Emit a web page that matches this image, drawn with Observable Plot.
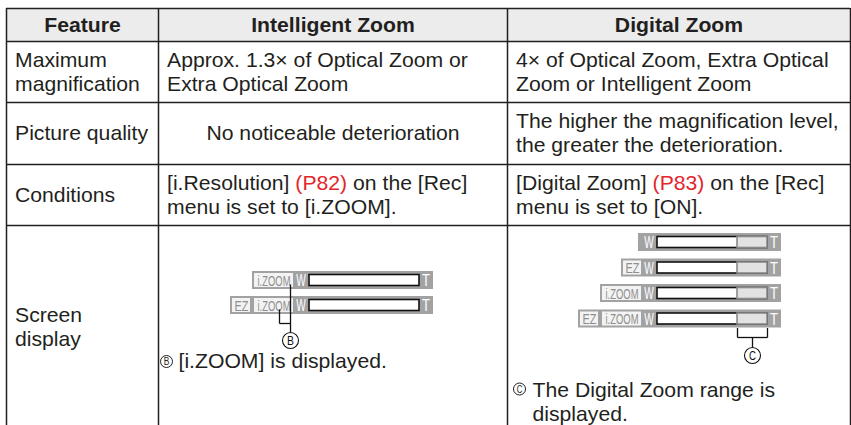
<!DOCTYPE html>
<html><head><meta charset="utf-8">
<script src="https://cdn.jsdelivr.net/npm/d3@7"></script>
<script src="https://cdn.jsdelivr.net/npm/@observablehq/plot@0.6"></script>
<style>
html,body{margin:0;padding:0;background:#fff;}
#chart svg{display:block;}
</style>
</head><body><div id="chart"></div>
<script>
// ---------- data ----------
const headers = ["Feature", "Intelligent Zoom", "Digital Zoom"];
const features = ["Maximum\nmagnification", "Picture quality", "Conditions", "Screen\ndisplay"];
const intelligentZoom = [
  "Approx. 1.3× of Optical Zoom or\nExtra Optical Zoom",
  "No noticeable deterioration",
  "[i.Resolution] (P82) on the [Rec]\nmenu is set to [i.ZOOM].",
  null
];
const digitalZoom = [
  "4× of Optical Zoom, Extra Optical\nZoom or Intelligent Zoom",
  "The higher the magnification level,\nthe greater the deterioration.",
  "[Digital Zoom] (P83) on the [Rec]\nmenu is set to [ON].",
  null
];
const pageRefs = ["(P82)", "(P83)"];
const calloutLetters = ["B", "C"];
const footnotes = ["[i.ZOOM] is displayed.", "The Digital Zoom range is\ndisplayed."];
const intelligentIndicators = [["i.ZOOM"], ["EZ", "i.ZOOM"]];
const digitalIndicators = [[], ["EZ"], ["i.ZOOM"], ["EZ", "i.ZOOM"]];
const wideEnd = "W";
const teleEnd = "T";

// ---------- layout ----------
const W = 851, H = 425;
const colX = [6, 158, 507, 850];
const rowY = [8, 41, 102, 164, 225, 428];
const FS = 20, LH = 24, PAD = 8.5, WIDEN = 1.06;
const centered = [[2, 1]];
const INK = "#231f20", RED = "#e3262b";
const GREY = "#a2a2a2", BADGE_FILL = "#f3f3f3", DIGI = "#e2e2e2";
const BADGE_W = {"i.ZOOM": 39, "EZ": 18};
const TEXT_LEN = {"i.ZOOM": 33, "EZ": 14, "W": 9.5, "T": 8, "B": 7, "C": 7};
const BAR_H = 18;
const R2 = 433, tops2 = [271, 296];
const R3 = 781, tops3 = [233, 258.5, 284, 309.5];

// cells
const table = [headers, ...features.map((f, i) => [f, intelligentZoom[i], digitalZoom[i]])];
const cells = [];
table.forEach((row, r) => row.forEach((text, c) => {
  if (text == null) return;
  const n = text.split("\n").length;
  const center = (rowY[r] + rowY[r + 1]) / 2;
  const isCenter = r === 0 || centered.some(([rr, cc]) => rr === r && cc === c);
  cells.push({
    text,
    x: isCenter ? (colX[c] + colX[c + 1]) / 2 : colX[c] + PAD,
    y: center + (n - 1) * LH / 2 + 6.5,
    header: r === 0,
    center: isCenter
  });
}));

// indicators
const greys = [], badges = [], wts = [], whites = [], digis = [];
function addIndicator(R, top, list, showDigital) {
  let cursor = R - 140;
  const bs = [];
  for (const b of [...list].reverse()) {
    const w = BADGE_W[b];
    bs.push({x1: cursor - w, x2: cursor, y1: top + 2, y2: top + 16, label: b, cx: cursor - w / 2, cy: top + 14.3});
    cursor = cursor - w - 4;
  }
  const left = bs.length ? bs[bs.length - 1].x1 - 2 : R - 143;
  greys.push({x1: left, x2: R, y1: top, y2: top + BAR_H});
  badges.push(...bs);
  wts.push({x: R - 132.5, y: top + 14.7, t: wideEnd}, {x: R - 7.5, y: top + 14.7, t: teleEnd});
  whites.push({x1: R - 124, x2: R - 14, y1: top + 3.5, y2: top + 14.5});
  if (showDigital) digis.push({x1: R - 44, x2: R - 14, y1: top + 3.5, y2: top + 14.5});
}
intelligentIndicators.forEach((l, i) => addIndicator(R2, tops2[i], l, false));
digitalIndicators.forEach((l, i) => addIndicator(R3, tops3[i], l, true));

// callouts
const c2 = {x: R2 - 143, y: 340}, c3 = {x: R3 - 29, y: 355};
const bot3 = tops3[3] + BAR_H, br3 = bot3 + 9.5;
const links = [
  {x1: c2.x, y1: tops2[0] + 13, x2: c2.x, y2: c2.y - 8},
  {x1: R2 - 154, y1: tops2[1] + 13, x2: R2 - 154, y2: 323},
  {x1: R2 - 154, y1: 323, x2: c2.x, y2: 323},
  {x1: R3 - 44, y1: bot3, x2: R3 - 44, y2: br3},
  {x1: R3 - 14, y1: bot3, x2: R3 - 14, y2: br3},
  {x1: R3 - 44, y1: br3, x2: R3 - 14, y2: br3},
  {x1: c3.x, y1: br3, x2: c3.x, y2: c3.y - 8}
];
const bigCircles = [{...c2, t: calloutLetters[0]}, {...c3, t: calloutLetters[1]}];
const smallCircles = [{x: 166, y: 361, t: calloutLetters[0]}, {x: 519, y: 388.5, t: calloutLetters[1]}];
const notes = [
  {x: 178, y: 367, text: footnotes[0]},
  {x: 532, y: 420, text: footnotes[1]}
];

const FONT = "'Liberation Sans', Arial, Helvetica, sans-serif";

// text marks tagged by order (group index) for post-processing
const textKinds = [];
function T(kind, data, opts) { textKinds.push(kind); return Plot.text(data, opts); }

const chart = Plot.plot({
  width: W, height: H, margin: 0,
  x: {type: "identity", axis: null},
  y: {type: "identity", axis: null},
  style: {background: "#fff"},
  marks: [
    Plot.rect([0], {x1: colX[0], x2: colX[3], y1: rowY[0], y2: rowY[1], fill: "#ececec"}),
    Plot.ruleY(rowY.slice(0, 5), {x1: colX[0], x2: colX[3], y: d => d, stroke: INK, strokeWidth: 1.6}),
    Plot.ruleX(colX, {x: d => d, y1: rowY[0], y2: rowY[5], stroke: INK, strokeWidth: 1.5}),
    T("cell", cells.filter(d => !d.center), {x: "x", y: "y", text: "text", textAnchor: "start", lineAnchor: "bottom", lineHeight: 1.2, fontSize: FS, fontFamily: FONT, fill: INK}),
    T("cell", cells.filter(d => d.center && !d.header), {x: "x", y: "y", text: "text", textAnchor: "middle", lineAnchor: "bottom", lineHeight: 1.2, fontSize: FS, fontFamily: FONT, fill: INK}),
    T("cell", cells.filter(d => d.header), {x: "x", y: "y", text: "text", textAnchor: "middle", lineAnchor: "bottom", fontSize: FS, fontWeight: "bold", fontFamily: FONT, fill: INK}),
    // indicators
    Plot.rect(greys, {x1: "x1", x2: "x2", y1: "y1", y2: "y2", fill: GREY}),
    Plot.rect(badges, {x1: "x1", x2: "x2", y1: "y1", y2: "y2", fill: BADGE_FILL}),
    T("narrow", badges, {x: "cx", y: "cy", text: "label", textAnchor: "middle", lineAnchor: "bottom", fontSize: 15, fontFamily: FONT, fill: "#8e8e8e"}),
    T("narrow", wts, {x: "x", y: "y", text: "t", textAnchor: "middle", lineAnchor: "bottom", fontSize: 16, fontFamily: FONT, fill: "#fff"}),
    Plot.rect(whites, {x1: "x1", x2: "x2", y1: "y1", y2: "y2", fill: "#fff", stroke: "#111", strokeWidth: 1.6}),
    Plot.rect(digis, {x1: "x1", x2: "x2", y1: "y1", y2: "y2", fill: DIGI, stroke: "#8a8a8a", strokeWidth: 1.6}),
    // callouts
    Plot.link(links, {x1: "x1", y1: "y1", x2: "x2", y2: "y2", stroke: "#111", strokeWidth: 1.3}),
    Plot.dot(bigCircles, {x: "x", y: "y", r: 8, fill: "#fff", stroke: "#111", strokeWidth: 1.1}),
    T("narrow", bigCircles, {x: "x", y: d => d.y + 4.8, text: "t", textAnchor: "middle", lineAnchor: "bottom", fontSize: 13.5, fontFamily: FONT, fill: "#111"}),
    Plot.dot(smallCircles, {x: "x", y: "y", r: 6, fill: "#fff", stroke: INK, strokeWidth: 1}),
    T("small", smallCircles, {x: "x", y: d => d.y + 3.6, text: "t", textAnchor: "middle", lineAnchor: "bottom", fontSize: 10, fontFamily: FONT, fill: INK}),
    T("cell", notes, {x: "x", y: "y", text: "text", textAnchor: "start", lineAnchor: "bottom", lineHeight: 1.2, fontSize: FS, fontFamily: FONT, fill: INK})
  ]
});

document.getElementById("chart").append(chart);

// horizontal scaling helper (keeps anchor point fixed)
function scaleX(t, sx) {
  let tr = t.getAttribute("transform") || "";
  const x = t.getAttribute("x");
  if (x != null && x !== "" && !isNaN(+x) && +x !== 0) {
    tr += ` translate(${+x},0)`;
    t.setAttribute("x", 0);
  }
  t.setAttribute("transform", `${tr} scale(${sx},1)`.trim());
}

// red page refs
chart.querySelectorAll("text, tspan").forEach(el => {
  if (el.childNodes.length !== 1 || el.firstChild.nodeType !== 3) return;
  const s = el.textContent;
  const ref = pageRefs.find(p => s.includes(p));
  if (!ref) return;
  const [a, b] = s.split(ref);
  el.textContent = "";
  el.append(document.createTextNode(a));
  const ts = document.createElementNS("http://www.w3.org/2000/svg", "tspan");
  ts.setAttribute("fill", RED);
  ts.textContent = ref;
  el.append(ts, document.createTextNode(b));
});

const groups = [...chart.querySelectorAll('g[aria-label="text"]')];
groups.forEach((g, gi) => {
  const kind = textKinds[gi];
  g.querySelectorAll(":scope > text").forEach(t => {
    if (kind === "cell") { scaleX(t, WIDEN); return; }
    const len = TEXT_LEN[t.textContent];
    if (!len) return;
    const target = kind === "small" ? len * 0.8 : len;
    const w = t.getComputedTextLength();
    if (w > 0) scaleX(t, target / w);
  });
});
</script>
</body></html>
